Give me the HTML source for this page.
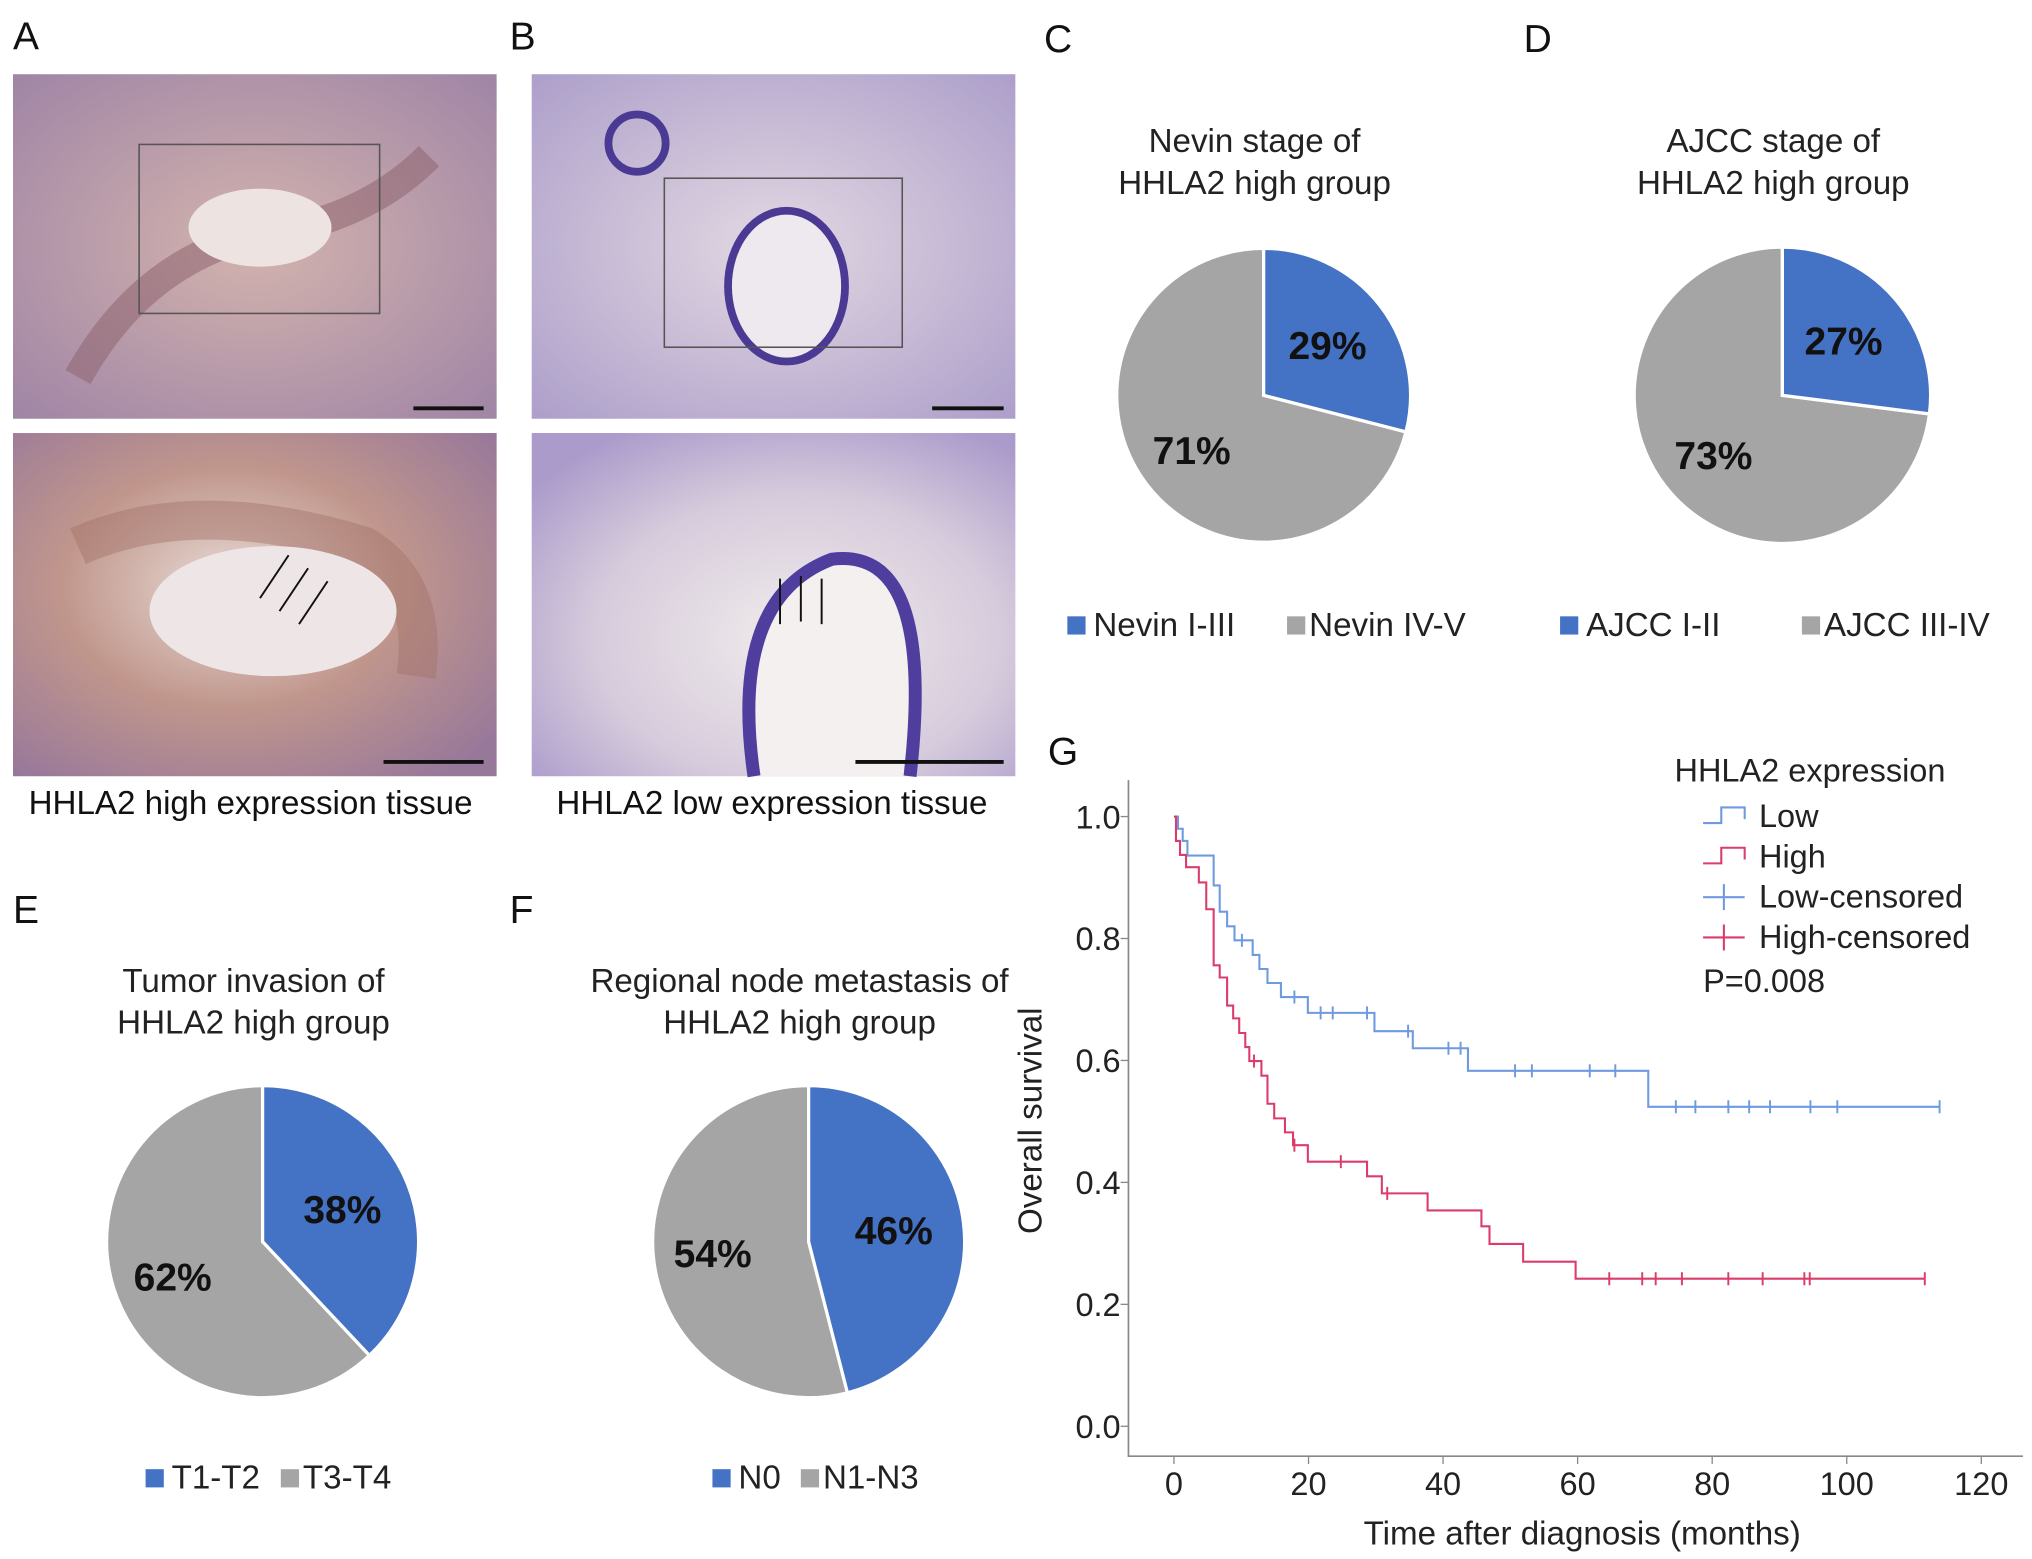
<!DOCTYPE html>
<html><head><meta charset="utf-8"><style>
html,body{margin:0;padding:0;background:#fff}
svg{display:block;font-family:"Liberation Sans",sans-serif}
</style></head><body>
<svg id="fig" width="2032" height="1559" viewBox="0 0 1563 1199" xmlns="http://www.w3.org/2000/svg">
<defs>
<radialGradient id="gA" cx="50%" cy="50%" r="70%"><stop offset="0" stop-color="#d3b3ad"/><stop offset="1" stop-color="#a085a6"/></radialGradient>
<radialGradient id="gA2" cx="45%" cy="45%" r="70%"><stop offset="0" stop-color="#e8dcd6"/><stop offset="0.5" stop-color="#c0968c"/><stop offset="1" stop-color="#98789a"/></radialGradient>
<radialGradient id="gB" cx="50%" cy="50%" r="70%"><stop offset="0" stop-color="#e2d8e2"/><stop offset="1" stop-color="#ad9fca"/></radialGradient>
<radialGradient id="gB2" cx="55%" cy="60%" r="70%"><stop offset="0" stop-color="#f1ecec"/><stop offset="0.6" stop-color="#d6cbdc"/><stop offset="1" stop-color="#ab9bcb"/></radialGradient>
</defs>

<g font-size="30" fill="#111">
<text x="10" y="38">A</text>
<text x="392" y="38">B</text>
<text x="803" y="40">C</text>
<text x="1172" y="40">D</text>
<text x="10" y="710">E</text>
<text x="392" y="710">F</text>
<text x="806" y="588">G</text>
</g>

<g>
<rect x="10" y="57" width="372" height="265" fill="url(#gA)"/>
<path d="M60 290 Q110 200 200 180 Q280 170 330 120" stroke="#8e6470" stroke-width="22" fill="none" opacity="0.55"/>
<ellipse cx="200" cy="175" rx="55" ry="30" fill="#ede4e2"/>
<rect x="107" y="111" width="185" height="130" fill="none" stroke="#555" stroke-width="1.2"/>
<line x1="318" y1="314" x2="372" y2="314" stroke="#111" stroke-width="3"/>
<rect x="10" y="333" width="372" height="264" fill="url(#gA2)"/>
<path d="M60 420 Q150 380 280 420 Q330 450 320 520" stroke="#a27068" stroke-width="30" fill="none" opacity="0.45"/>
<ellipse cx="210" cy="470" rx="95" ry="50" fill="#eee6e6"/>
<line x1="295" y1="586" x2="372" y2="586" stroke="#111" stroke-width="3"/>
<g stroke="#111" stroke-width="1.5" fill="#111"><line x1="200" y1="460" x2="222" y2="427"/><line x1="215" y1="470" x2="237" y2="437"/><line x1="230" y1="480" x2="252" y2="447"/></g>
<text x="22" y="626" font-size="25.5" fill="#111">HHLA2 high expression tissue</text>
</g>

<g>
<rect x="409" y="57" width="372" height="265" fill="url(#gB)"/>
<circle cx="490" cy="110" r="22" fill="none" stroke="#4b3a94" stroke-width="6"/>
<ellipse cx="605" cy="220" rx="45" ry="58" fill="#eee9ee" stroke="#4b3a94" stroke-width="6"/>
<rect x="511" y="137" width="183" height="130" fill="none" stroke="#555" stroke-width="1.2"/>
<line x1="717" y1="314" x2="772" y2="314" stroke="#111" stroke-width="3"/>
<rect x="409" y="333" width="372" height="264" fill="url(#gB2)"/>
<path d="M580 597 Q560 460 640 430 Q720 420 700 597" fill="#f3f0ef" stroke="#4f3e9e" stroke-width="10"/>
<g stroke="#111" stroke-width="1.5"><line x1="600" y1="480" x2="600" y2="445"/><line x1="616" y1="478" x2="616" y2="443"/><line x1="632" y1="480" x2="632" y2="445"/></g>
<line x1="658" y1="586" x2="772" y2="586" stroke="#111" stroke-width="3"/>
<text x="428" y="626" font-size="25.5" fill="#111">HHLA2 low expression tissue</text>
</g>

<g id="pies"></g>
<g id="km"></g>
</svg>

<script>
const NS="http://www.w3.org/2000/svg";
const svg=document.getElementById('fig');
function mk(tag,attrs,parent){const e=document.createElementNS(NS,tag);for(const k in attrs)e.setAttribute(k,attrs[k]);(parent||svg).appendChild(e);return e;}

const pieIds=['c','d','e','f'];
const pieBlue=[29,27,38,46];
const pieGray=[71,73,62,54];
const pieTitle1=['Nevin stage of','AJCC stage of','Tumor invasion of','Regional node metastasis of'];
const pieTitle2=['HHLA2 high group','HHLA2 high group','HHLA2 high group','HHLA2 high group'];
const legBlue=['Nevin I-III','AJCC I-II','T1-T2','N0'];
const legGray=['Nevin IV-V','AJCC III-IV','T3-T4','N1-N3'];

const pieGeo=[
 {cx:972,cy:304,r:113,ty:117,ly:489,lx1:821,lx2:990},
 {cx:1371,cy:304,r:114,ty:117,ly:489,lx1:1200,lx2:1386},
 {cx:202,cy:955,r:120,ty:763,ly:1145,lx1:112,lx2:216},
 {cx:622,cy:955,r:120,ty:763,ly:1145,lx1:548,lx2:616}
];
const pg=document.getElementById('pies');
pieIds.forEach((id,i)=>{
  const G=pieGeo[i];
  const g=mk('g',{},pg);
  
  
  const total=pieBlue[i]+pieGray[i];
  const a=pieBlue[i]/total*2*Math.PI;
  const px=G.cx+G.r*Math.sin(a), py=G.cy-G.r*Math.cos(a);
  const gray=mk('path',{d:`M${G.cx} ${G.cy} L${px} ${py} A${G.r} ${G.r} 0 ${a<Math.PI?1:0} 1 ${G.cx} ${G.cy-G.r} Z`,fill:'#a5a5a5',stroke:'#fff','stroke-width':2.5},g);
  
  
  const blue=mk('path',{d:`M${G.cx} ${G.cy} L${G.cx} ${G.cy-G.r} A${G.r} ${G.r} 0 ${a>Math.PI?1:0} 1 ${px} ${py} Z`,fill:'#4472c4',stroke:'#fff','stroke-width':2.5},g);
  
  
  const mb=a/2, mg=a+(2*Math.PI-a)/2;
  const t1=mk('text',{x:G.cx+G.r*0.55*Math.sin(mb),y:G.cy-G.r*0.55*Math.cos(mb)+10,'font-size':30,'font-weight':'bold','text-anchor':'middle',fill:'#111'},g);
  t1.textContent=pieBlue[i]+'%';
  
  
  const t2=mk('text',{x:G.cx+G.r*0.62*Math.sin(mg),y:G.cy-G.r*0.62*Math.cos(mg)+10,'font-size':30,'font-weight':'bold','text-anchor':'middle',fill:'#111'},g);
  t2.textContent=pieGray[i]+'%';
  
  
  const h1=mk('text',{x:G.cx-7,y:G.ty,'font-size':25.5,'text-anchor':'middle',fill:'#222'},g);
  h1.textContent=pieTitle1[i];
  
  
  const h2=mk('text',{x:G.cx-7,y:G.ty+32,'font-size':25.5,'text-anchor':'middle',fill:'#222'},g);
  h2.textContent=pieTitle2[i];
  
  
  const lb=mk('rect',{x:G.lx1,y:G.ly-15,width:14,height:14,fill:'#4472c4'},g);
  
  
  const lt=mk('text',{x:G.lx1+20,y:G.ly,'font-size':25.5,fill:'#222'},g);
  lt.textContent=legBlue[i];
  
  
  const lg=mk('rect',{x:G.lx2,y:G.ly-15,width:14,height:14,fill:'#a5a5a5'},g);
  
  
  const lt2=mk('text',{x:G.lx2+17,y:G.ly,'font-size':25.5,fill:'#222'},g);
  lt2.textContent=legGray[i];
  
  
});

const lowT=[0,0.6,1.3,2,5.9,6.8,7.9,9,11.7,12.7,13.9,15.9,19.9,29.8,35.5,43.7,70.5];
const lowS=[1,0.98,0.96,0.936,0.887,0.844,0.82,0.797,0.773,0.75,0.727,0.704,0.678,0.648,0.62,0.583,0.524];
const lowEnd=113.8;
const lowCensT=[10.1,17.9,21.8,23.6,28.7,34.8,40.8,42.6,50.7,53.2,61.8,65.6,74.6,77.5,82.4,85.5,88.6,94.6,98.6,113.8];
const highT=[0,0.3,0.9,1.8,3.7,4.8,5.9,6.8,7.9,8.8,9.7,10.6,11.2,13,13.9,14.9,16.5,17.7,19.9,28.7,30.9,37.7,45.7,46.9,51.9,59.7];
const highS=[1,0.96,0.937,0.917,0.892,0.848,0.756,0.736,0.69,0.669,0.645,0.622,0.599,0.575,0.529,0.505,0.482,0.461,0.434,0.41,0.382,0.354,0.328,0.299,0.27,0.242];
const highEnd=111.6;
const highCensT=[11.9,17.9,24.8,31.7,64.7,69.6,71.6,75.5,82.4,87.5,93.7,94.5,111.6];
const xTicks=[0,20,40,60,80,100,120];
const yTicks=[0,0.2,0.4,0.6,0.8,1.0];

const X=t=>903+t*(1524-903)/120;
const Y=s=>1097-s*(1097-628);
const km=document.getElementById('km');


const ax=mk('path',{d:'M868 600 L868 1120 L1556 1120',stroke:'#888',fill:'none','stroke-width':1.3},km);


xTicks.forEach(v=>{
  const l=mk('line',{x1:X(v),x2:X(v),y1:1120,y2:1126,stroke:'#888'},km);
  
  
  const t=mk('text',{x:X(v),y:1150,'font-size':25,'text-anchor':'middle',fill:'#222'},km);
  t.textContent=v;
  
  
});
yTicks.forEach(v=>{
  const l=mk('line',{x1:862,x2:868,y1:Y(v),y2:Y(v),stroke:'#888'},km);
  
  
  const t=mk('text',{x:862,y:Y(v)+9,'font-size':25,'text-anchor':'end',fill:'#222'},km);
  t.textContent=v.toFixed(1);
  
  
});
const xt=mk('text',{x:1217,y:1188,'font-size':25.5,'text-anchor':'middle',fill:'#222'},km);
xt.textContent='Time after diagnosis (months)';


const yt=mk('text',{x:0,y:0,'font-size':25.5,'text-anchor':'middle',fill:'#222',transform:'translate(801 862) rotate(-90)'},km);
yt.textContent='Overall survival';



function stepPath(T,S,end){
  let d=`M${X(T[0])} ${Y(S[0])}`;
  for(let i=1;i<T.length;i++){d+=` H${X(T[i])} V${Y(S[i])}`;}
  return d+` H${X(end)}`;
}
function survAt(T,S,t){let s=S[0];for(let i=0;i<T.length;i++)if(T[i]<=t)s=S[i];return s;}
function drawSeries(T,S,end,cens,color,name){
  const p=mk('path',{d:stepPath(T,S,end),stroke:color,fill:'none','stroke-width':1.6},km);
  
  
  cens.forEach(t=>{
    const y=Y(survAt(T,S,t));
    const c=mk('line',{x1:X(t),x2:X(t),y1:y-5,y2:y+5,stroke:color,'stroke-width':1.5},km);
    
    
  });
}
drawSeries(lowT,lowS,lowEnd,lowCensT,'#6e9ae0','low');
drawSeries(highT,highS,highEnd,highCensT,'#dc3c6c','high');

const lgG=mk('g',{},km);


const lh=mk('text',{x:1288,y:601,'font-size':25,fill:'#222'},lgG);
lh.textContent='HHLA2 expression';


const legNames=['Low','High','Low-censored','High-censored'];
const legCols=['#6e9ae0','#dc3c6c','#6e9ae0','#dc3c6c'];
legNames.forEach((n,i)=>{
  const y=633+i*31;
  let d;
  if(i<2) d=`M1310 ${y} H1324 V${y-12} H1342 V${y-3}`; else d=`M1310 ${y-5} H1342 M1326 ${y-15} V${y+5}`;
  const s=mk('path',{d:d,stroke:legCols[i],fill:'none','stroke-width':1.6},lgG);
  
  
  const t=mk('text',{x:1353,y:y+3,'font-size':25,fill:'#222'},lgG);
  t.textContent=n;
  
  
});
const pv=mk('text',{x:1310,y:763,'font-size':25,fill:'#222'},lgG);
pv.textContent='P=0.008';


</script>
</body></html>
